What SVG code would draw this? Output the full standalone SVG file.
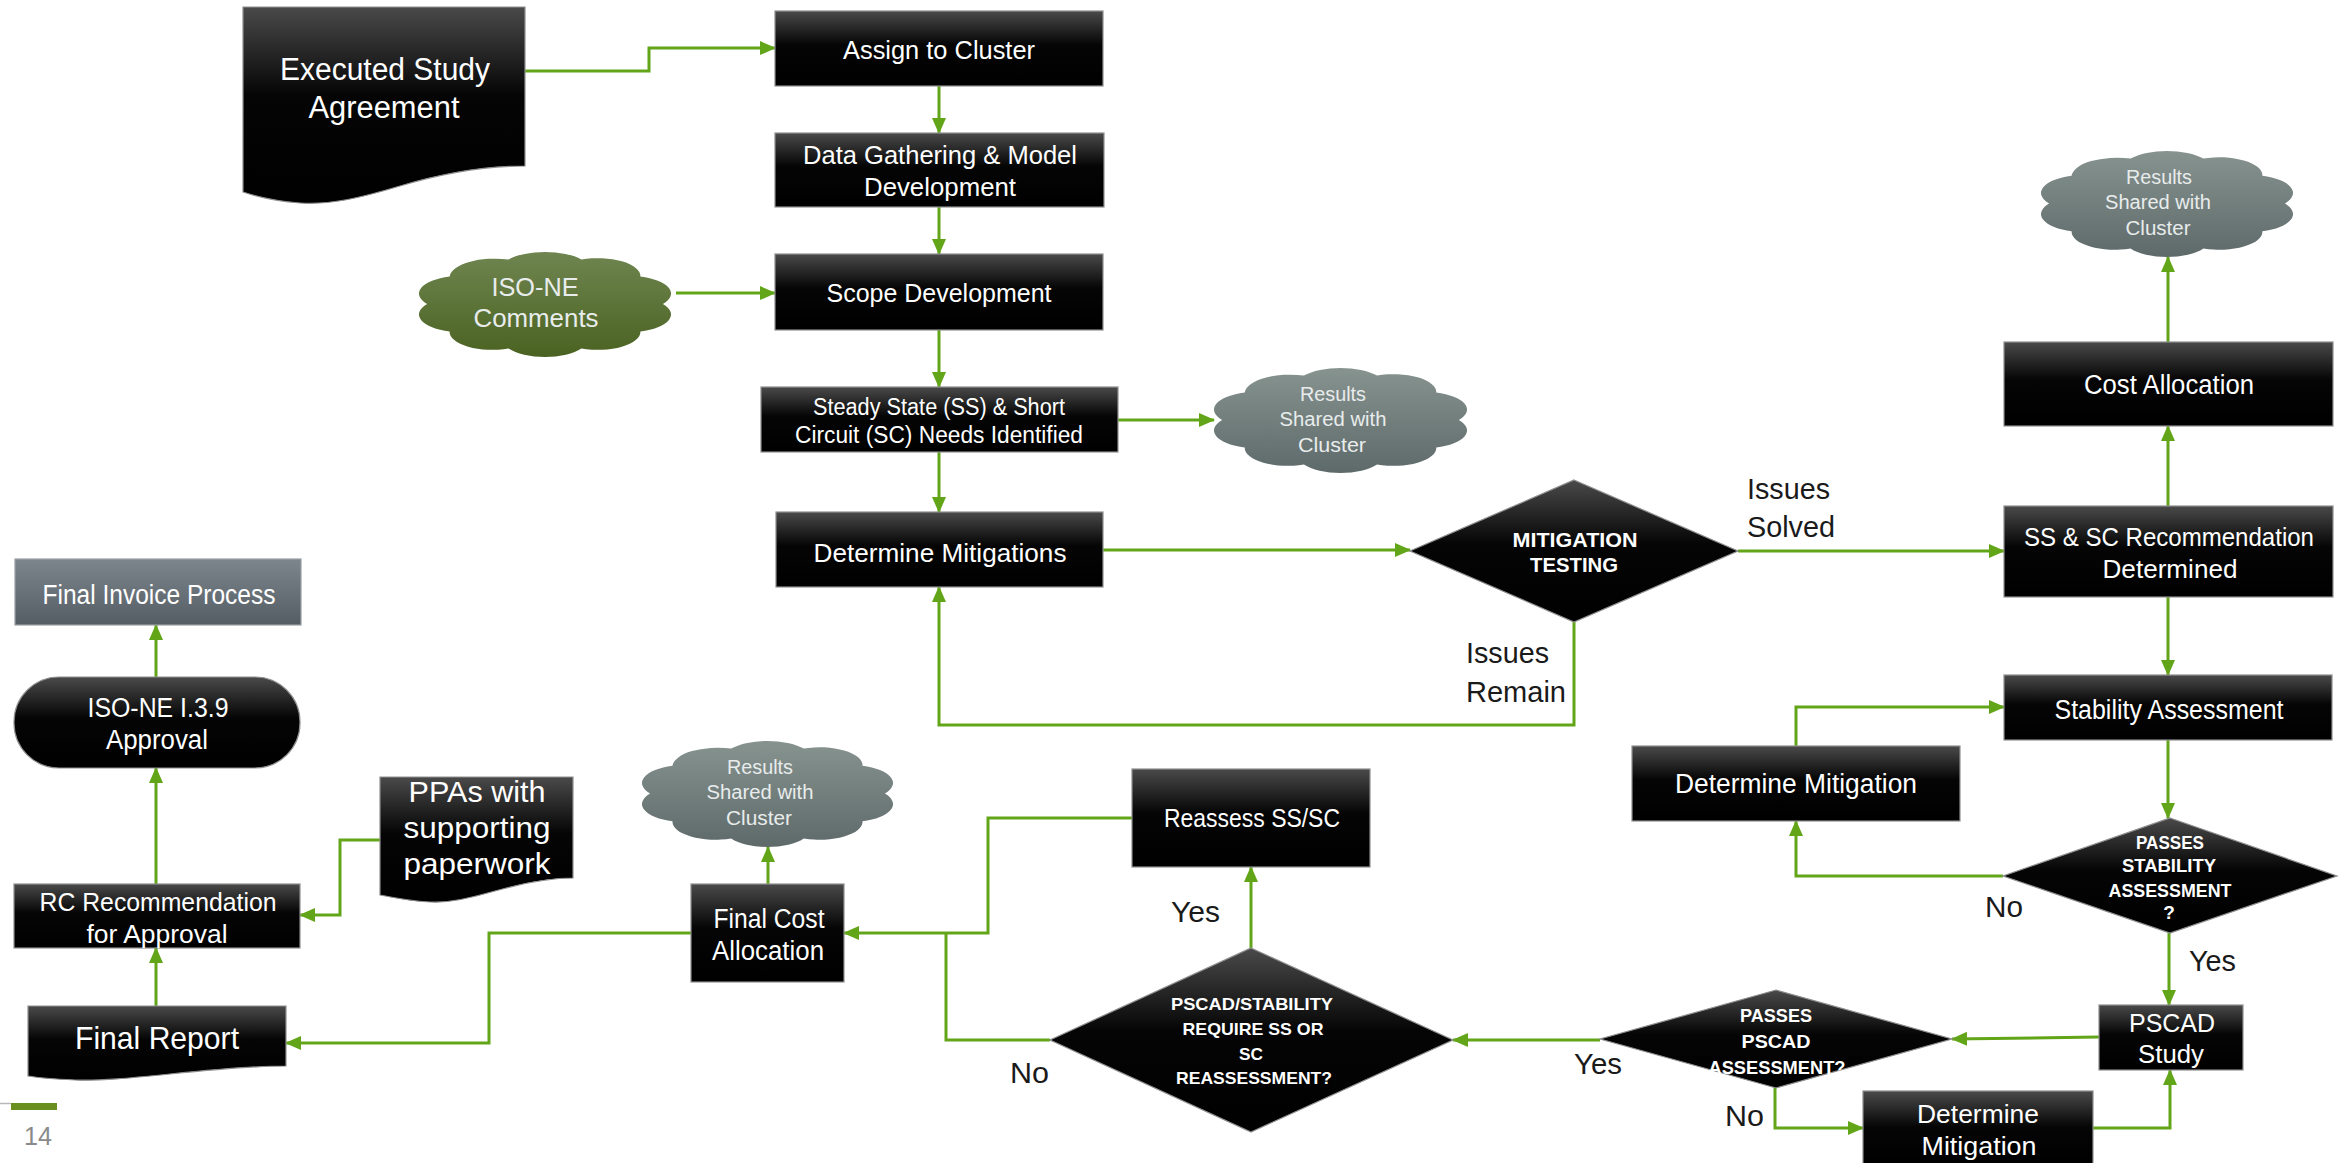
<svg xmlns="http://www.w3.org/2000/svg" width="2341" height="1163" viewBox="0 0 2341 1163">
<defs>
<linearGradient id="gBox" x1="0" y1="0" x2="0" y2="1"><stop offset="0" stop-color="#4a4a4a"/><stop offset="0.45" stop-color="#050505"/><stop offset="1" stop-color="#000"/></linearGradient>
<linearGradient id="gGray" x1="0" y1="0" x2="0" y2="1"><stop offset="0" stop-color="#7e868d"/><stop offset="1" stop-color="#555d64"/></linearGradient>
<linearGradient id="gCloud" x1="0" y1="0" x2="0" y2="1"><stop offset="0" stop-color="#87938f"/><stop offset="1" stop-color="#5e6a6a"/></linearGradient>
<linearGradient id="gGreen" x1="0" y1="0" x2="0" y2="1"><stop offset="0" stop-color="#6f8550"/><stop offset="1" stop-color="#4a6221"/></linearGradient>
<symbol id="cloud" viewBox="2.6 2.5 94.8 95" preserveAspectRatio="none" overflow="visible">
<path d="M6,50 A16,16 0 0 1 14.4,25.3 A17,17 0 0 1 36.4,10.1 A17,17 0 0 1 63.6,10.1 A16,16 0 0 1 85.6,25.3 A16,16 0 0 1 94,50 A16,16 0 0 1 85.6,74.7 A16,16 0 0 1 63.6,89.9 A16,16 0 0 1 36.4,89.9 A16,16 0 0 1 14.4,74.7 A16,16 0 0 1 6,50 Z"/>
</symbol>
<marker id="ah" markerUnits="userSpaceOnUse" markerWidth="16" markerHeight="14" refX="15" refY="7" orient="auto" viewBox="0 0 16 14"><path d="M0,0 L16,7 L0,14 z" fill="#62a519"/></marker>
<style>
.box{fill:url(#gBox);stroke:#8f8f8f;stroke-width:1.2}
.t{font-family:"Liberation Sans",Arial,sans-serif;fill:#fff;text-anchor:middle}
.b{font-weight:bold}
.ct{font-family:"Liberation Sans",Arial,sans-serif;fill:#e8ecec;text-anchor:middle;font-size:20px}
.n{font-family:"Liberation Sans",Arial,sans-serif;fill:#1a1a1a;font-size:30px}
.c{fill:none;stroke:#62a519;stroke-width:3}
.a{marker-end:url(#ah)}
</style>
</defs>
<rect width="2341" height="1163" fill="#fff"/>

<g id="connectors">
<path class="c a" d="M525,71 H649 V48 H775"/>
<path class="c a" d="M939,86 V133"/>
<path class="c a" d="M939,207 V254"/>
<path class="c a" d="M676,293 H775"/>
<path class="c a" d="M939,330 V387"/>
<path class="c a" d="M1118,420 H1214"/>
<path class="c a" d="M939,452 V512"/>
<path class="c a" d="M1103,550 H1410"/>
<path class="c a" d="M1738,551 H2004"/>
<path class="c a" d="M1574,622 V725 H939 V587"/>
<path class="c a" d="M2168,506 V426"/>
<path class="c a" d="M2168,342 V257"/>
<path class="c a" d="M2168,597 V675"/>
<path class="c a" d="M2168,740 V818"/>
<path class="c a" d="M2003,876 H1796 V821"/>
<path class="c a" d="M1796,746 V707 H2004"/>
<path class="c a" d="M2169,933 V1005"/>
<path class="c a" d="M2099,1037 L1952,1039"/>
<path class="c a" d="M1775,1088 V1128 H1863"/>
<path class="c a" d="M2093,1128 H2170 V1070"/>
<path class="c a" d="M1600,1040 H1453"/>
<path class="c a" d="M1251,948 V867"/>
<path class="c a" d="M1132,818 H988 V933 H844"/>
<path class="c" d="M1050,1040 H946 V933"/>
<path class="c a" d="M768,884 V847"/>
<path class="c a" d="M691,933 H489 V1043 H286"/>
<path class="c a" d="M156,1006 V948"/>
<path class="c a" d="M380,840 H340 V915 H300"/>
<path class="c a" d="M156,884 V768"/>
<path class="c a" d="M156,677 V625"/>
</g>

<g id="executed-study-agreement">
<path class="box" d="M243,7 H525 V166 C480,166 440,174 400,186 C360,198 330,205 300,203 C275,201 258,197 243,192 Z"/>
<text class="t" x="385" y="80" font-size="31" textLength="210" lengthAdjust="spacingAndGlyphs">Executed Study</text>
<text class="t" x="384" y="118" font-size="31" textLength="151" lengthAdjust="spacingAndGlyphs">Agreement</text>
</g>

<g id="assign-to-cluster">
<rect class="box" x="775" y="11" width="328" height="75"/>
<text class="t" x="939" y="59" font-size="26" textLength="192" lengthAdjust="spacingAndGlyphs">Assign to Cluster</text>
</g>

<g id="data-gathering">
<rect class="box" x="775" y="133" width="329" height="74"/>
<text class="t" x="940" y="164" font-size="26" textLength="274" lengthAdjust="spacingAndGlyphs">Data Gathering &amp; Model</text>
<text class="t" x="940" y="196" font-size="26" textLength="152" lengthAdjust="spacingAndGlyphs">Development</text>
</g>

<g id="iso-ne-comments">
<use href="#cloud" x="418" y="251" width="254" height="106" fill="url(#gGreen)"/>
<text class="ct" x="535" y="296" style="font-size:25px" textLength="87" lengthAdjust="spacingAndGlyphs">ISO-NE</text>
<text class="ct" x="536" y="327" style="font-size:25px" textLength="125" lengthAdjust="spacingAndGlyphs">Comments</text>
</g>

<g id="scope-development">
<rect class="box" x="775" y="254" width="328" height="76"/>
<text class="t" x="939" y="302" font-size="26" textLength="225" lengthAdjust="spacingAndGlyphs">Scope Development</text>
</g>

<g id="ss-sc-needs">
<rect class="box" x="761" y="387" width="357" height="65"/>
<text class="t" x="939" y="415" font-size="23" textLength="252" lengthAdjust="spacingAndGlyphs">Steady State (SS) &amp; Short</text>
<text class="t" x="939" y="443" font-size="23" textLength="288" lengthAdjust="spacingAndGlyphs">Circuit (SC) Needs Identified</text>
</g>

<g id="results-cloud-1">
<use href="#cloud" x="1213" y="367" width="255" height="106" fill="url(#gCloud)"/>
<text class="ct" x="1333" y="401" textLength="66" lengthAdjust="spacingAndGlyphs">Results</text>
<text class="ct" x="1333" y="426" textLength="107" lengthAdjust="spacingAndGlyphs">Shared with</text>
<text class="ct" x="1332" y="452" textLength="68" lengthAdjust="spacingAndGlyphs">Cluster</text>
</g>

<g id="determine-mitigations">
<rect class="box" x="776" y="512" width="327" height="75"/>
<text class="t" x="940" y="562" font-size="26" textLength="253" lengthAdjust="spacingAndGlyphs">Determine Mitigations</text>
</g>

<g id="mitigation-testing">
<polygon class="box" points="1574,480 1738,551 1574,622 1410,551"/>
<text class="t b" x="1575" y="547" font-size="20" textLength="125" lengthAdjust="spacingAndGlyphs">MITIGATION</text>
<text class="t b" x="1574" y="572" font-size="20" textLength="88" lengthAdjust="spacingAndGlyphs">TESTING</text>
</g>

<g id="label-issues-solved">
<text class="n" x="1747" y="499" textLength="83" lengthAdjust="spacingAndGlyphs">Issues</text>
<text class="n" x="1747" y="537" textLength="88" lengthAdjust="spacingAndGlyphs">Solved</text>
</g>
<g id="label-issues-remain">
<text class="n" x="1466" y="663" textLength="83" lengthAdjust="spacingAndGlyphs">Issues</text>
<text class="n" x="1466" y="702" textLength="100" lengthAdjust="spacingAndGlyphs">Remain</text>
</g>

<g id="results-cloud-2">
<use href="#cloud" x="2040" y="150" width="254" height="107" fill="url(#gCloud)"/>
<text class="ct" x="2159" y="184" textLength="66" lengthAdjust="spacingAndGlyphs">Results</text>
<text class="ct" x="2158" y="209" textLength="106" lengthAdjust="spacingAndGlyphs">Shared with</text>
<text class="ct" x="2158" y="235" textLength="65" lengthAdjust="spacingAndGlyphs">Cluster</text>
</g>

<g id="cost-allocation">
<rect class="box" x="2004" y="342" width="329" height="84"/>
<text class="t" x="2169" y="394" font-size="27" textLength="170" lengthAdjust="spacingAndGlyphs">Cost Allocation</text>
</g>

<g id="ss-sc-recommendation">
<rect class="box" x="2004" y="506" width="329" height="91"/>
<text class="t" x="2169" y="546" font-size="26" textLength="290" lengthAdjust="spacingAndGlyphs">SS &amp; SC Recommendation</text>
<text class="t" x="2170" y="578" font-size="26" textLength="135" lengthAdjust="spacingAndGlyphs">Determined</text>
</g>

<g id="stability-assessment">
<rect class="box" x="2004" y="675" width="328" height="65"/>
<text class="t" x="2169" y="719" font-size="27" textLength="229" lengthAdjust="spacingAndGlyphs">Stability Assessment</text>
</g>

<g id="determine-mitigation-2">
<rect class="box" x="1632" y="746" width="328" height="75"/>
<text class="t" x="1796" y="793" font-size="27" textLength="242" lengthAdjust="spacingAndGlyphs">Determine Mitigation</text>
</g>

<g id="passes-stability">
<polygon class="box" points="2170,818 2337,876 2170,933 2003,876"/>
<text class="t b" x="2170" y="849" font-size="19" textLength="68" lengthAdjust="spacingAndGlyphs">PASSES</text>
<text class="t b" x="2169" y="872" font-size="19" textLength="94" lengthAdjust="spacingAndGlyphs">STABILITY</text>
<text class="t b" x="2170" y="897" font-size="19" textLength="123" lengthAdjust="spacingAndGlyphs">ASSESSMENT</text>
<text class="t b" x="2169" y="919" font-size="19">?</text>
</g>
<g id="label-no-stability"><text class="n" x="1985" y="917" textLength="38" lengthAdjust="spacingAndGlyphs">No</text></g>
<g id="label-yes-stability"><text class="n" x="2189" y="971" textLength="47" lengthAdjust="spacingAndGlyphs">Yes</text></g>

<g id="pscad-study">
<rect class="box" x="2099" y="1005" width="144" height="65"/>
<text class="t" x="2172" y="1032" font-size="26" textLength="86" lengthAdjust="spacingAndGlyphs">PSCAD</text>
<text class="t" x="2171" y="1063" font-size="26" textLength="66" lengthAdjust="spacingAndGlyphs">Study</text>
</g>

<g id="passes-pscad">
<polygon class="box" points="1776,990 1952,1039 1776,1088 1600,1039"/>
<text class="t b" x="1776" y="1022" font-size="19" textLength="72" lengthAdjust="spacingAndGlyphs">PASSES</text>
<text class="t b" x="1776" y="1048" font-size="19" textLength="69" lengthAdjust="spacingAndGlyphs">PSCAD</text>
<text class="t b" x="1777" y="1074" font-size="19" textLength="137" lengthAdjust="spacingAndGlyphs">ASSESSMENT?</text>
</g>
<g id="label-yes-pscad"><text class="n" x="1574" y="1074" textLength="48" lengthAdjust="spacingAndGlyphs">Yes</text></g>
<g id="label-no-pscad"><text class="n" x="1725" y="1126" textLength="39" lengthAdjust="spacingAndGlyphs">No</text></g>

<g id="determine-mitigation-3">
<rect class="box" x="1863" y="1091" width="230" height="80"/>
<text class="t" x="1978" y="1123" font-size="25" textLength="122" lengthAdjust="spacingAndGlyphs">Determine</text>
<text class="t" x="1979" y="1155" font-size="25" textLength="115" lengthAdjust="spacingAndGlyphs">Mitigation</text>
</g>

<g id="reassessment-decision">
<polygon class="box" points="1251,948 1453,1040 1251,1132 1050,1040"/>
<text class="t b" x="1252" y="1010" font-size="17" textLength="162" lengthAdjust="spacingAndGlyphs">PSCAD/STABILITY</text>
<text class="t b" x="1253" y="1035" font-size="17" textLength="141" lengthAdjust="spacingAndGlyphs">REQUIRE SS OR</text>
<text class="t b" x="1251" y="1060" font-size="17" textLength="24" lengthAdjust="spacingAndGlyphs">SC</text>
<text class="t b" x="1254" y="1084" font-size="17" textLength="156" lengthAdjust="spacingAndGlyphs">REASSESSMENT?</text>
</g>
<g id="label-yes-reassess"><text class="n" x="1171" y="922" textLength="49" lengthAdjust="spacingAndGlyphs">Yes</text></g>
<g id="label-no-reassess"><text class="n" x="1010" y="1083" textLength="39" lengthAdjust="spacingAndGlyphs">No</text></g>

<g id="reassess-ss-sc">
<rect class="box" x="1132" y="769" width="238" height="98"/>
<text class="t" x="1252" y="827" font-size="26" textLength="176" lengthAdjust="spacingAndGlyphs">Reassess SS/SC</text>
</g>

<g id="final-cost-allocation">
<rect class="box" x="691" y="884" width="153" height="98"/>
<text class="t" x="769" y="928" font-size="27" textLength="111" lengthAdjust="spacingAndGlyphs">Final Cost</text>
<text class="t" x="768" y="960" font-size="27" textLength="112" lengthAdjust="spacingAndGlyphs">Allocation</text>
</g>

<g id="results-cloud-3">
<use href="#cloud" x="641" y="740" width="253" height="107" fill="url(#gCloud)"/>
<text class="ct" x="760" y="774" textLength="66" lengthAdjust="spacingAndGlyphs">Results</text>
<text class="ct" x="760" y="799" textLength="107" lengthAdjust="spacingAndGlyphs">Shared with</text>
<text class="ct" x="759" y="825" textLength="66" lengthAdjust="spacingAndGlyphs">Cluster</text>
</g>

<g id="final-invoice-process">
<rect x="15" y="559" width="286" height="66" fill="url(#gGray)" stroke="#9aa0a6" stroke-width="1.2"/>
<text class="t" x="159" y="604" font-size="27" textLength="233" lengthAdjust="spacingAndGlyphs">Final Invoice Process</text>
</g>

<g id="iso-ne-approval">
<rect class="box" x="14" y="677" width="286" height="91" rx="45" ry="45"/>
<text class="t" x="158" y="717" font-size="27" textLength="141" lengthAdjust="spacingAndGlyphs">ISO-NE I.3.9</text>
<text class="t" x="157" y="749" font-size="27" textLength="102" lengthAdjust="spacingAndGlyphs">Approval</text>
</g>

<g id="rc-recommendation">
<rect class="box" x="14" y="884" width="286" height="64"/>
<text class="t" x="158" y="911" font-size="26" textLength="237" lengthAdjust="spacingAndGlyphs">RC Recommendation</text>
<text class="t" x="157" y="943" font-size="26" textLength="141" lengthAdjust="spacingAndGlyphs">for Approval</text>
</g>

<g id="ppas-paperwork">
<path class="box" d="M380,777 H573 V878 C545,878 520,884 495,891 C470,898 450,903 430,902 C410,901 395,898 380,895 Z"/>
<text class="t" x="477" y="802" font-size="30" textLength="137" lengthAdjust="spacingAndGlyphs">PPAs with</text>
<text class="t" x="477" y="838" font-size="30" textLength="147" lengthAdjust="spacingAndGlyphs">supporting</text>
<text class="t" x="477" y="874" font-size="30" textLength="147" lengthAdjust="spacingAndGlyphs">paperwork</text>
</g>

<g id="final-report">
<path class="box" d="M28,1006 H286 V1066 C250,1066 210,1070 170,1074 C130,1078 100,1081 75,1080 C55,1079 40,1078 28,1076 Z"/>
<text class="t" x="157" y="1049" font-size="32" textLength="164" lengthAdjust="spacingAndGlyphs">Final Report</text>
</g>

<g id="footer">
<line x1="0" y1="1103.5" x2="11" y2="1103.5" stroke="#b8b8b8" stroke-width="1.5"/>
<rect x="11" y="1103" width="46" height="7" fill="#6a8f21"/>
<text x="24" y="1145" font-family="Liberation Sans, Arial, sans-serif" font-size="25" fill="#8a8a8a" textLength="28" lengthAdjust="spacingAndGlyphs">14</text>
</g>
</svg>
